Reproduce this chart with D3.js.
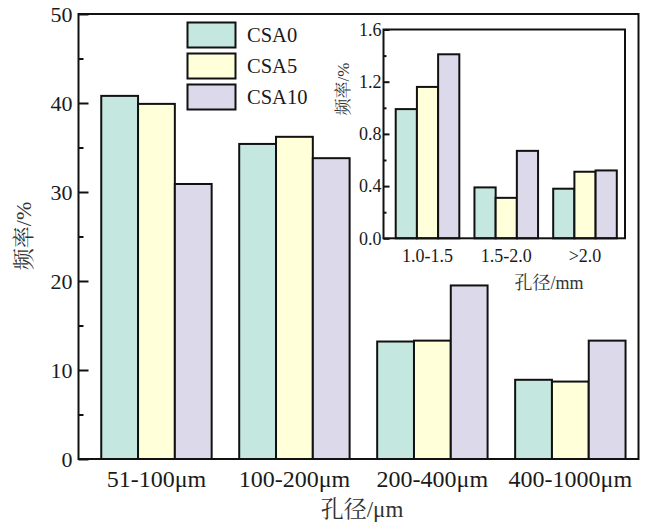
<!DOCTYPE html>
<html>
<head>
<meta charset="utf-8">
<script src="https://cdn.jsdelivr.net/npm/d3@7"></script>
<style>
  html, body { margin: 0; padding: 0; background: #fff; }
  svg { display: block; }
  text { fill: #1a1a1a; }
</style>
</head>
<body>
<svg id="chart" width="651" height="529"></svg>
<script>
// Pore size distribution: frequency of pores per size class for three mixes
const series = ["CSA0", "CSA5", "CSA10"];
const seriesColors = ["#c4e8df", "#ffffda", "#dcdaea"];

// Main plot: micro-scale pore classes
const mainCategories = ["51-100μm", "100-200μm", "200-400μm", "400-1000μm"];
const mainCSA0  = [40.8, 35.4, 13.2, 8.9];
const mainCSA5  = [39.9, 36.2, 13.3, 8.7];
const mainCSA10 = [30.9, 33.8, 19.5, 13.3];
const mainTicks = [0, 10, 20, 30, 40, 50];

// Inset: millimetre-scale pore classes
const insetCategories = ["1.0-1.5", "1.5-2.0", ">2.0"];
const insetCSA0  = [0.99, 0.39, 0.38];
const insetCSA5  = [1.16, 0.31, 0.51];
const insetCSA10 = [1.41, 0.67, 0.52];
const insetTicks = [0.0, 0.4, 0.8, 1.2, 1.6];

const serif = "'Liberation Serif', 'Times New Roman', serif";
const cjk = "'Liberation Serif', 'Noto Serif CJK SC', 'Noto Sans CJK SC', serif";

const svg = d3.select("#chart");

// Draws one grouped bar panel with a boxed frame and inward ticks
function drawPanel(g, opts) {
  const { x0, x1, y0, y1, xDomain, yMax, cats, values, barW,
          majorTicks, minorStep, majorLen, minorLen, tickFont, tickFmt,
          catFont, catDy, labelGap } = opts;

  const x = d3.scaleLinear().domain(xDomain).range([x0, x1]);
  const y = d3.scaleLinear().domain([0, yMax]).range([y0, y1]);

  // white backdrop
  g.append("rect").attr("x", x0).attr("y", y1)
    .attr("width", x1 - x0).attr("height", y0 - y1).attr("fill", "#fff");

  // bars
  const rows = [];
  cats.forEach((c, i) => {
    series.forEach((s, j) => rows.push({ i, j, v: values[j][i] }));
  });
  g.append("g").selectAll("rect").data(rows).join("rect")
    .attr("x", d => x(d.i) + (d.j - 1.5) * barW)
    .attr("y", d => y(d.v))
    .attr("width", barW)
    .attr("height", d => y(0) - y(d.v))
    .attr("fill", d => seriesColors[d.j])
    .attr("stroke", "#111")
    .attr("stroke-width", 2);

  // y axis, ticks pointing inward
  const minor = d3.range(0, yMax + 1e-9, minorStep).filter(v => !majorTicks.some(t => Math.abs(t - v) < 1e-9));
  const yAxis = d3.axisRight(y).tickValues(majorTicks).tickSize(majorLen).tickFormat("");
  const yAxisG = g.append("g").attr("transform", `translate(${x0},0)`).call(yAxis);
  yAxisG.select(".domain").remove();
  yAxisG.selectAll("line").attr("stroke", "#111").attr("stroke-width", 2);
  const yMinor = d3.axisRight(y).tickValues(minor).tickSize(minorLen).tickFormat("");
  const yMinorG = g.append("g").attr("transform", `translate(${x0},0)`).call(yMinor);
  yMinorG.select(".domain").remove();
  yMinorG.selectAll("line").attr("stroke", "#111").attr("stroke-width", 2);

  // y tick labels
  g.append("g").selectAll("text").data(majorTicks).join("text")
    .attr("x", x0 - labelGap)
    .attr("y", d => y(d))
    .attr("dy", "0.35em")
    .attr("text-anchor", "end")
    .style("font-family", serif)
    .style("font-size", tickFont + "px")
    .text(tickFmt);

  // category labels
  g.append("g").selectAll("text").data(cats).join("text")
    .attr("x", (d, i) => x(i))
    .attr("y", y0 + catDy)
    .attr("text-anchor", "middle")
    .style("font-family", serif)
    .style("font-size", catFont + "px")
    .text(d => d);

  // frame
  g.append("rect").attr("x", x0).attr("y", y1)
    .attr("width", x1 - x0).attr("height", y0 - y1)
    .attr("fill", "none").attr("stroke", "#111").attr("stroke-width", 2);

  return { x, y };
}

// ---- main panel ----
const mainG = svg.append("g");
drawPanel(mainG, {
  x0: 78.5, x1: 638.5, y0: 459, y1: 14,
  xDomain: [-0.565, 3.494], yMax: 50,
  cats: mainCategories, values: [mainCSA0, mainCSA5, mainCSA10],
  barW: 36.8,
  majorTicks: mainTicks, minorStep: 5, majorLen: 10, minorLen: 5,
  tickFont: 22, tickFmt: d => d3.format("d")(d),
  catFont: 24, catDy: 28, labelGap: 6
});

mainG.append("text")
  .attr("x", 362).attr("y", 517)
  .attr("text-anchor", "middle")
  .style("font-family", cjk).style("font-size", "23px")
  .style("fill", "#333")
  .text("孔径/μm");

mainG.append("text")
  .attr("transform", "translate(31,236) rotate(-90)")
  .attr("text-anchor", "middle")
  .style("font-family", cjk).style("font-size", "22px")
  .style("fill", "#333")
  .text("频率/%");

// legend
const legend = svg.append("g");
series.forEach((s, j) => {
  legend.append("rect")
    .attr("x", 187.5).attr("y", 22.5 + j * 31)
    .attr("width", 48).attr("height", 25)
    .attr("fill", seriesColors[j]).attr("stroke", "#111").attr("stroke-width", 2);
  legend.append("text")
    .attr("x", 247).attr("y", 35 + j * 31).attr("dy", "0.35em")
    .style("font-family", serif).style("font-size", "20.5px")
    .text(s);
});

// ---- inset panel ----
const insetG = svg.append("g");
drawPanel(insetG, {
  x0: 383.5, x1: 625, y0: 238.3, y1: 29.5,
  xDomain: [-0.559, 2.508], yMax: 1.6,
  cats: insetCategories, values: [insetCSA0, insetCSA5, insetCSA10],
  barW: 21.2,
  majorTicks: insetTicks, minorStep: 0.2, majorLen: 6, minorLen: 3,
  tickFont: 18, tickFmt: d => d3.format(".1f")(d),
  catFont: 18, catDy: 24, labelGap: 2
});

insetG.append("text")
  .attr("x", 549).attr("y", 289)
  .attr("text-anchor", "middle")
  .style("font-family", cjk).style("font-size", "18px")
  .style("fill", "#333")
  .text("孔径/mm");

insetG.append("text")
  .attr("transform", "translate(349,89) rotate(-90)")
  .attr("text-anchor", "middle")
  .style("font-family", cjk).style("font-size", "17px")
  .style("fill", "#333")
  .text("频率/%");
</script>
</body>
</html>
